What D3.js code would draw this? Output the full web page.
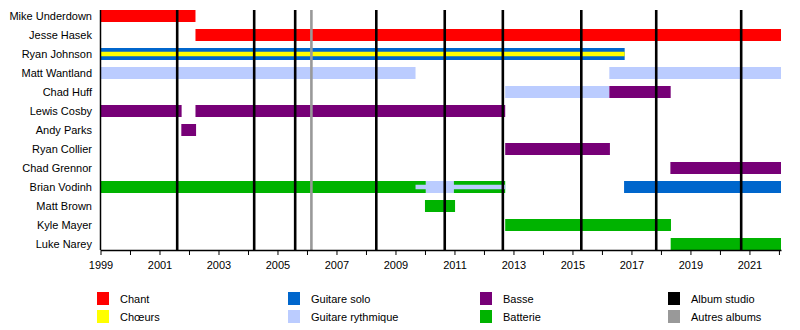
<!DOCTYPE html>
<html>
<head>
<meta charset="utf-8">
<script src="https://cdn.jsdelivr.net/npm/d3@7"></script>
<style>
  body { margin: 0; background: #fff; }
  svg text { font-family: "Liberation Sans", Arial, sans-serif; font-size: 11px; fill: #000; }
</style>
</head>
<body>
<div id="chart"></div>
<script>
const END = 2022.07

const members = ['Mike Underdown', 'Jesse Hasek', 'Ryan Johnson', 'Matt Wantland', 'Chad Huff',
    'Lewis Cosby', 'Andy Parks', 'Ryan Collier', 'Chad Grennor', 'Brian Vodinh', 'Matt Brown',
    'Kyle Mayer', 'Luke Narey']

const roles = ['Chant', 'Chœurs', 'Guitare solo', 'Guitare rythmique', 'Basse', 'Batterie']
const roleColors = ['#ff0000', '#ffff00', '#0066cc', '#bbccff', '#770077', '#00b300']

// [member, role, start, end]
const mainSpells = [
    ['Mike Underdown', 'Chant', 1999, 2002.22],
    ['Jesse Hasek', 'Chant', 2002.22, END],
    ['Ryan Johnson', 'Guitare solo', 1999, 2016.77],
    ['Matt Wantland', 'Guitare rythmique', 1999, 2009.68],
    ['Matt Wantland', 'Guitare rythmique', 2016.25, END],
    ['Chad Huff', 'Guitare rythmique', 2012.72, 2016.25],
    ['Chad Huff', 'Basse', 2016.25, 2018.33],
    ['Lewis Cosby', 'Basse', 1999, 2001.75],
    ['Lewis Cosby', 'Basse', 2002.22, 2012.72],
    ['Andy Parks', 'Basse', 2001.74, 2002.24],
    ['Ryan Collier', 'Basse', 2012.72, 2016.27],
    ['Chad Grennor', 'Basse', 2018.32, END],
    ['Brian Vodinh', 'Batterie', 1999, 2010.03],
    ['Brian Vodinh', 'Guitare rythmique', 2010.03, 2010.98],
    ['Brian Vodinh', 'Batterie', 2010.98, 2012.72],
    ['Brian Vodinh', 'Guitare solo', 2016.75, END],
    ['Matt Brown', 'Batterie', 2010.0, 2011.02],
    ['Kyle Mayer', 'Batterie', 2012.72, 2018.34],
    ['Luke Narey', 'Batterie', 2018.33, END]
]

// secondary roles, drawn as a thin stripe
const secondarySpells = [
    ['Ryan Johnson', 'Chœurs', 1999, 2016.77],
    ['Brian Vodinh', 'Guitare rythmique', 2009.68, 2012.72]
]

const studioAlbums = [2001.60, 2004.21, 2005.60, 2008.35, 2010.67, 2012.64, 2015.30, 2017.84, 2020.72]
const otherAlbums = [2006.15]

const legendItems = [
    ['Chant', '#ff0000'], ['Chœurs', '#ffff00'],
    ['Guitare solo', '#0066cc'], ['Guitare rythmique', '#bbccff'],
    ['Basse', '#770077'], ['Batterie', '#00b300'],
    ['Album studio', '#000000'], ['Autres albums', '#999999']
]

const years = d3.range(1999, 2023)

const width = 800
const height = 330

const svg = d3.select('#chart')
    .append('svg')
    .attr('width', width)
    .attr('height', height)

const color = d3.scaleOrdinal().domain(roles).range(roleColors)

const xScale = d3.scaleLinear()
    .domain([1999, END])
    .range([100.5, 781])

const yScale = d3.scaleBand()
    .domain(members)
    .range([6.5, 253.5])

const barH = 12
const stripeH = 4.5
const plotTop = 10
const plotBottom = 250

// Bars
svg.append('g')
    .selectAll('rect')
    .data(mainSpells)
    .enter()
    .append('rect')
    .attr('x', d => xScale(d[2]))
    .attr('width', d => xScale(d[3]) - xScale(d[2]))
    .attr('y', d => yScale(d[0]) + yScale.bandwidth() / 2 - barH / 2)
    .attr('height', barH)
    .attr('fill', d => color(d[1]))

svg.append('g')
    .selectAll('rect')
    .data(secondarySpells)
    .enter()
    .append('rect')
    .attr('x', d => xScale(d[2]))
    .attr('width', d => xScale(d[3]) - xScale(d[2]))
    .attr('y', d => yScale(d[0]) + yScale.bandwidth() / 2 - stripeH / 2)
    .attr('height', stripeH)
    .attr('fill', d => color(d[1]))

// Album lines
svg.append('g')
    .selectAll('line')
    .data(otherAlbums)
    .enter()
    .append('line')
    .attr('x1', d => xScale(d))
    .attr('x2', d => xScale(d))
    .attr('y1', plotTop)
    .attr('y2', plotBottom)
    .attr('stroke', '#999999')
    .attr('stroke-width', 2.6)

svg.append('g')
    .selectAll('line')
    .data(studioAlbums)
    .enter()
    .append('line')
    .attr('x1', d => xScale(d))
    .attr('x2', d => xScale(d))
    .attr('y1', plotTop)
    .attr('y2', plotBottom)
    .attr('stroke', '#000')
    .attr('stroke-width', 2.6)

// X axis
const xAxis = d3.axisBottom(xScale)
    .tickValues(years)
    .tickSize(5)
    .tickSizeOuter(0)
    .tickFormat(y => y % 2 === 1 ? y : '')
svg.append('g')
    .attr('transform', `translate(0, ${plotBottom})`)
    .call(xAxis)
    .call(g => g.select('.domain').attr('stroke-width', 1.5))
    .call(g => g.selectAll('text').attr('font-family', null).attr('font-size', null).attr('dy', '1em'))

// Y axis (line only, names to the left)
svg.append('line')
    .attr('x1', 100.5).attr('x2', 100.5)
    .attr('y1', plotTop).attr('y2', plotBottom)
    .attr('stroke', '#000')
    .attr('stroke-width', 1.5)

svg.append('g')
    .selectAll('text')
    .data(members)
    .enter()
    .append('text')
    .attr('x', 92)
    .attr('y', d => yScale(d) + yScale.bandwidth() / 2)
    .attr('dy', '0.35em')
    .attr('text-anchor', 'end')
    .text(d => d)

// Legend
const legend = svg.append('g')
    .selectAll('g')
    .data(legendItems)
    .enter()
    .append('g')
    .attr('transform', (d, i) => `translate(${[97, 288, 480, 668][Math.floor(i / 2)]}, ${292 + (i % 2) * 18})`)
legend.append('rect')
    .attr('width', 12)
    .attr('height', 13)
    .attr('fill', d => d[1])
legend.append('text')
    .attr('x', 23)
    .attr('y', 7)
    .attr('dy', '0.35em')
    .text(d => d[0])
</script>
</body>
</html>
